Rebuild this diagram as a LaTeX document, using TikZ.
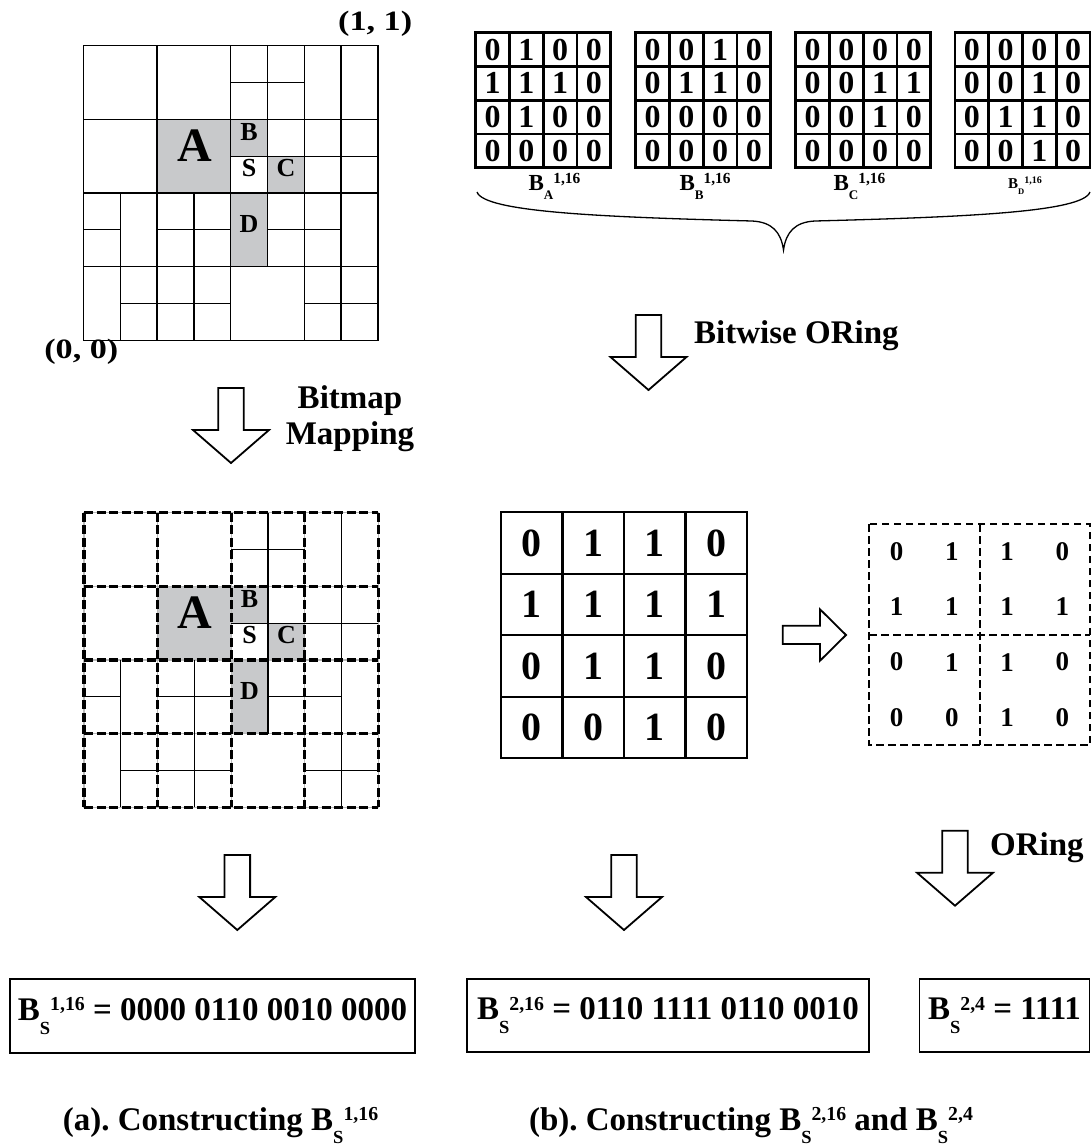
\documentclass[tikz,border=0pt]{standalone}
\usepackage{fontspec}
\setmainfont{Liberation Serif}
\usepackage{graphicx}
\definecolor{cellgray}{RGB}{200,201,203}
\newcommand\fsz[1]{\fontsize{#1}{#1}\selectfont\bfseries}
\newcommand\Bss[2]{B\raisebox{-0.42em}{\scalebox{0.56}{#1}}\raisebox{0.28em}{\scalebox{0.6}{#2}}}
\newcommand\Bm[2]{B\raisebox{-0.43em}{\scalebox{0.57}{#1}}\raisebox{0.29em}{\scalebox{0.67}{#2}}}
\newcommand\quadtree[2]{%
  \fill[cellgray] (2,2) rectangle (4,4);
  \fill[cellgray] (4,2) rectangle (5,3);
  \fill[cellgray] (5,3) rectangle (6,4);
  \fill[cellgray] (4,4) rectangle (5,6);
  \draw[thinline, draw=#2] (0,0) rectangle (8,8);
  \foreach \i in {2,4,6} {\draw[thinline, draw=#2] (\i,0) -- (\i,8);}
  \foreach \i in {2,4,6} {\draw[thinline, draw=#2] (0,\i) -- (8,\i);}
  \draw[thinline] (7,0) -- (7,8) (1,4) -- (1,8) (3,4) -- (3,8) (5,0) -- (5,6)
     (4,1) -- (6,1) (4,3) -- (8,3) (0,5) -- (1,5) (2,5) -- (4,5) (5,5) -- (7,5)
     (1,7) -- (4,7) (6,7) -- (8,7);
  \node[lbl, font=\fsz{48}] (#1A) at (3.02,3.15) {A};
  \node[lbl, font=\fsz{26}] (#1B) at (4.5,2.58) {B};
  \node[lbl, font=\fsz{26}] (#1S) at (4.5,3.56) {S};
  \node[lbl, font=\fsz{26}] (#1C) at (5.5,3.56) {C};
  \node[lbl, font=\fsz{26}] (#1D) at (4.5,5.07) {D};
}
\newcommand\matdigits[3]{%
  \foreach \v [count=\k from 0] in {#3} {%
    \pgfmathtruncatemacro\cc{mod(\k,4)}%
    \pgfmathtruncatemacro\rr{div(\k,4)}%
    \node[inner sep=0pt, font=\fsz{#2}] (#1-\k) at (\cc+0.5,\rr+0.5) {\v};
  }}
\newcommand\matlines[1]{%
  \draw[line width=#1] (0,0) rectangle (4,4);
  \foreach \i in {1,2,3} {\draw[line width=#1] (\i,0) -- (\i,4); \draw[line width=#1] (0,\i) -- (4,\i);}}
\begin{document}
\begin{tikzpicture}[x=1pt,y=-1pt,
  thinline/.style={line width=1.3pt},
  bigdash/.style={line width=3.3pt, dash pattern=on 9pt off 3.5pt},
  smalldash/.style={line width=2pt, dash pattern=on 7.5pt off 4.5pt},
  blockarrow/.style={draw=black, fill=white, line width=1.8pt, line join=miter},
  eqbox/.style={draw, line width=1.2pt, inner sep=0pt, font=\fsz{33}},
  lbl/.style={inner sep=0pt, anchor=base},
  dnarrow/.pic={\path[blockarrow] (-12.8,0) -- (12.8,0) -- (12.8,42) -- (38,42) -- (0,75) -- (-38,42) -- (-12.8,42) -- cycle;}]
\useasboundingbox[fill=white] (0,0) rectangle (1091,1148);

% ---- top-left quadtree
\begin{scope}[shift={(83.5,45.8)}, x=36.8pt, y=-36.8pt]
  \quadtree{q1}{black}
\end{scope}
\node[inner sep=0pt, anchor=base west, font=\fsz{28}] (p11) at (338,31) {\scalebox{1.22}[1]{(1, 1)}};
\node[inner sep=0pt, anchor=base east, font=\fsz{28}] (p00) at (118.5,358) {\scalebox{1.22}[1]{(0, 0)}};

% ---- bitmap-mapped quadtree
\begin{scope}[shift={(84,512.8)}, x=36.8pt, y=-36.8pt]
  \quadtree{q2}{gray!55}
  \foreach \i in {0,2,4,6,8} {\draw[bigdash] (\i,0) -- (\i,8); \draw[bigdash] (0,\i) -- (8,\i);}
\end{scope}

% ---- top matrices
\begin{scope}[shift={(475.7,32.7)}, x=33.75pt, y=-33.75pt]
  \matlines{2.8pt}
  \matdigits{mA}{32}{0,1,0,0,1,1,1,0,0,1,0,0,0,0,0,0}
\end{scope}
\begin{scope}[shift={(635.7,32.7)}, x=33.75pt, y=-33.75pt]
  \matlines{2.8pt}
  \matdigits{mB}{32}{0,0,1,0,0,1,1,0,0,0,0,0,0,0,0,0}
\end{scope}
\begin{scope}[shift={(795.7,32.7)}, x=33.75pt, y=-33.75pt]
  \matlines{2.8pt}
  \matdigits{mC}{32}{0,0,0,0,0,0,1,1,0,0,1,0,0,0,0,0}
\end{scope}
\begin{scope}[shift={(955,32.7)}, x=33.75pt, y=-33.75pt]
  \matlines{2.8pt}
  \matdigits{mD}{32}{0,0,0,0,0,0,1,0,0,1,1,0,0,0,1,0}
\end{scope}
\node[inner sep=0pt, anchor=base west, font=\fsz{23}] (lA) at (528.3,190) {\Bm{A}{1,16}};
\node[inner sep=0pt, anchor=base west, font=\fsz{23}] (lB) at (679.3,190) {\Bm{B}{1,16}};
\node[inner sep=0pt, anchor=base west, font=\fsz{23}] (lC) at (833.3,190) {\Bm{C}{1,16}};
\node[inner sep=0pt, anchor=base west, font=\fsz{15}] (lD) at (1008,188.3) {\Bm{D}{1,16}};

% ---- brace
\coordinate (brL) at (477,192);
\coordinate (brR) at (1090,192);
\coordinate (brT) at (783.5,250);
\draw[line width=1.3pt] (brL) .. controls (484,212) and (600,217) .. (752,221)
  .. controls (772,222) and (781,232) .. (brT)
  .. controls (786,232) and (795,222) .. (815,221)
  .. controls (967,217) and (1083,212) .. (brR);

% ---- arrows with labels
\pic at (648.5,315) {dnarrow};
\node[inner sep=0pt, anchor=base west, font=\fsz{33}] (bwor) at (694,343) {Bitwise ORing};
\pic at (231,388) {dnarrow};
\node[lbl, font=\fsz{33}] (bm1) at (350,408) {Bitmap};
\node[lbl, font=\fsz{33}] (bm2) at (350,444) {Mapping};

% ---- big ORed matrix
\begin{scope}[shift={(501,512.3)}, x=61.5pt, y=-61.5pt]
  \matlines{2.2pt}
  \matdigits{mS}{40}{0,1,1,0,1,1,1,1,0,1,1,0,0,0,1,0}
\end{scope}
\path[blockarrow] (782.7,625.7) -- (820,625.7) -- (820,609.3) -- (846,635) -- (820,660.7) -- (820,644) -- (782.7,644) -- cycle;
\begin{scope}[shift={(869,524)}, x=55.25pt, y=-55.25pt]
  \draw[smalldash] (0,0) rectangle (4,4);
  \draw[smalldash] (2,0) -- (2,4) (0,2) -- (4,2);
  \matdigits{mT}{27}{0,1,1,0,1,1,1,1,0,1,1,0,0,0,1,0}
\end{scope}

% ---- lower arrows
\pic at (237.3,855) {dnarrow};
\pic at (624,855) {dnarrow};
\pic at (955,830.7) {dnarrow};
\node[inner sep=0pt, anchor=base west, font=\fsz{33}] (oring) at (990,855) {ORing};

% ---- result boxes
\node[eqbox, minimum width=405pt, minimum height=74pt] (eq1) at (212.5,1016) {\Bss{S}{1,16} = 0000 0110 0010 0000};
\node[eqbox, minimum width=402pt, minimum height=73pt] (eq2) at (668,1015.5) {\Bss{S}{2,16} = 0110 1111 0110 0010};
\node[eqbox, minimum width=170pt, minimum height=73pt] (eq3) at (1004.5,1015.5) {\Bss{S}{2,4} = 1111};

% ---- captions
\node[lbl, font=\fsz{33}] (capa) at (220.5,1130) {(a).\ Constructing \Bss{S}{1,16}};
\node[lbl, font=\fsz{33}] (capb) at (751,1130) {(b).\ Constructing \Bss{S}{2,16} and \Bss{S}{2,4}};
\end{tikzpicture}
\end{document}
